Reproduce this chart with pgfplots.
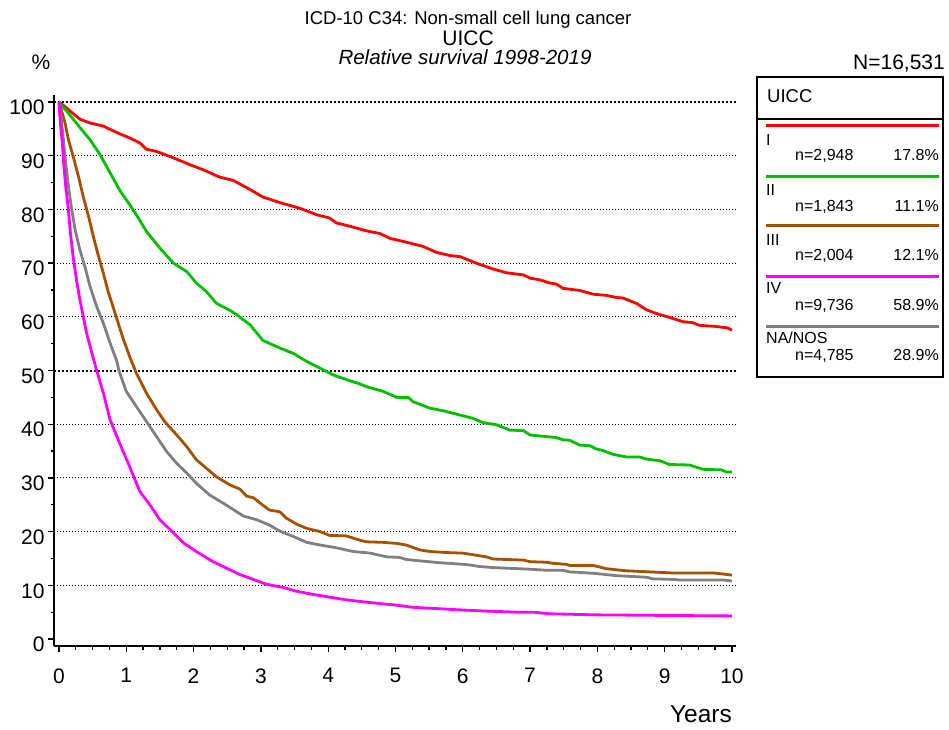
\documentclass[border=0pt]{standalone}
\usepackage{fontspec}
\setmainfont{Liberation Sans}
\usepackage{pgfplots}
\pgfplotsset{compat=1.18}
\definecolor{cI}{RGB}{255,0,0}
\definecolor{cII}{RGB}{0,190,0}
\definecolor{cIII}{RGB}{165,82,0}
\definecolor{cIV}{RGB}{255,0,255}
\definecolor{cNA}{RGB}{128,128,128}
\begin{document}
\begin{tikzpicture}
\useasboundingbox (0pt,0pt) rectangle (949pt,729pt);
% titles
\node[anchor=base,inner sep=0pt] at (468pt,704pt) {\fontsize{18.5}{22}\selectfont ICD-10 C34: Non-small cell lung cancer};
\node[anchor=base,inner sep=0pt] at (468pt,683pt) {\fontsize{21}{24}\selectfont UICC};
\node[anchor=base,inner sep=0pt] at (465pt,664pt) {\fontsize{20.5}{24}\selectfont\itshape Relative survival 1998-2019};
\node[anchor=base,inner sep=0pt] at (41pt,659pt) {\fontsize{21}{24}\selectfont \%};
\node[anchor=base east,inner sep=0pt] at (945pt,659pt) {\fontsize{21}{24}\selectfont N=16,531};
\node[anchor=base east,inner sep=0pt] at (732pt,7pt) {\fontsize{24.5}{28}\selectfont Years};
% legend
\draw[line width=1.2pt] (757pt,652pt) rectangle (943pt,352pt);
\draw[line width=1.2pt] (757pt,610pt) -- (943pt,610pt);
\node[anchor=base west,inner sep=0pt] at (767pt,626pt) {\fontsize{18.5}{22}\selectfont UICC};
\begin{scope}[every node/.style={inner sep=0pt,font=\fontsize{16}{19}\selectfont}]
\draw[cI,line width=3pt] (766pt,603pt) -- (939pt,603pt);
\node[anchor=base west] at (766pt,583pt) {I};
\node[anchor=base west] at (795pt,568pt) {n=2,948};
\node[anchor=base east] at (939pt,568pt) {17.8\%};
\draw[cII,line width=3pt] (766pt,552pt) -- (939pt,552pt);
\node[anchor=base west] at (766pt,533pt) {II};
\node[anchor=base west] at (795pt,517pt) {n=1,843};
\node[anchor=base east] at (939pt,517pt) {11.1\%};
\draw[cIII,line width=3pt] (766pt,503pt) -- (939pt,503pt);
\node[anchor=base west] at (766pt,483pt) {III};
\node[anchor=base west] at (795pt,468pt) {n=2,004};
\node[anchor=base east] at (939pt,468pt) {12.1\%};
\draw[cIV,line width=3pt] (766pt,452pt) -- (939pt,452pt);
\node[anchor=base west] at (766pt,435pt) {IV};
\node[anchor=base west] at (795pt,418pt) {n=9,736};
\node[anchor=base east] at (939pt,418pt) {58.9\%};
\draw[cNA,line width=3pt] (766pt,402pt) -- (939pt,402pt);
\node[anchor=base west] at (766pt,385pt) {NA/NOS};
\node[anchor=base west] at (795pt,369pt) {n=4,785};
\node[anchor=base east] at (939pt,369pt) {28.9\%};
\end{scope}
\begin{axis}[
  at={(54pt,83pt)}, anchor=south west,
  scale only axis, width=682pt, height=551pt,
  xmin=-0.074, xmax=10.06, ymin=-1.3, ymax=101.3,
  axis x line*=bottom, axis y line*=left,
  axis line style={line width=1.5pt,-},
  xtick={0,1,...,10}, minor x tick num=3,
  ytick={0,10,...,100}, minor y tick num=1,
  tick align=outside, major tick length=6pt, minor tick length=3.5pt,
  every tick/.style={black,line width=1.3pt},
  tick label style={font=\fontsize{21}{24}\selectfont},
  /pgf/number format/assume math mode=true,
  yticklabel style={yshift=-5.5pt},
  xticklabel style={yshift=-13pt},
  clip=false,
  every axis plot/.append style={line width=2.8pt, line join=round, no markers},
]
\pgfplotsinvokeforeach{10,20,30,40,60,70,80,90}{
  \draw[line width=1.1pt, dash pattern=on 1.1pt off 1.9pt] (axis cs:-0.074,#1) -- (axis cs:10.06,#1);
}
\pgfplotsinvokeforeach{50,100}{
  \draw[line width=2pt, dash pattern=on 2pt off 2pt] (axis cs:-0.074,#1) -- (axis cs:10.06,#1);
}
% I
\addplot[cI] coordinates {(0,100) (0.11,98.9) (0.31,96.8) (0.46,96.1) (0.66,95.5) (0.86,94.3) (1.05,93.3) (1.2,92.4) (1.30,91.2) (1.45,90.8) (1.70,89.6) (1.95,88.3) (2.14,87.4) (2.39,86.0) (2.59,85.4) (2.84,83.7) (3.03,82.3) (3.3,81.2) (3.58,80.2) (3.83,79.0) (4.02,78.4) (4.12,77.5) (4.37,76.7) (4.57,76.0) (4.77,75.5) (4.92,74.6) (5.16,73.9) (5.41,73.1) (5.61,72.0) (5.81,71.4) (5.96,71.2) (6.20,70.0) (6.45,68.9) (6.65,68.2) (6.90,67.8) (7.0,67.2) (7.14,66.9) (7.29,66.3) (7.39,66.1) (7.49,65.3) (7.74,64.9) (7.94,64.2) (8.13,64.0) (8.28,63.6) (8.38,63.5) (8.58,62.5) (8.73,61.3) (8.88,60.6) (9.07,59.9) (9.27,59.1) (9.42,58.9) (9.52,58.4) (9.77,58.2) (9.94,57.9) (10.0,57.5)};
% II
\addplot[cII] coordinates {(0,100) (0.16,97.6) (0.34,94.8) (0.46,93.0) (0.61,90.2) (0.76,86.8) (0.91,83.4) (1.05,80.9) (1.18,78.4) (1.30,75.9) (1.50,72.8) (1.70,70.0) (1.90,68.4) (2.04,66.3) (2.19,64.7) (2.34,62.5) (2.54,61.2) (2.64,60.4) (2.84,58.5) (3.03,55.6) (3.28,54.2) (3.48,53.2) (3.68,51.7) (3.93,50.1) (4.07,49.2) (4.32,48.1) (4.47,47.5) (4.57,47.0) (4.82,46.1) (5.02,45.0) (5.19,45.0) (5.26,44.2) (5.51,43.0) (5.71,42.5) (5.96,41.7) (6.15,41.1) (6.30,40.3) (6.50,39.9) (6.70,38.9) (6.90,38.8) (7.0,38.0) (7.24,37.7) (7.39,37.5) (7.49,37.1) (7.59,37.0) (7.74,36.1) (7.89,36.0) (7.98,35.4) (8.08,35.1) (8.23,34.4) (8.43,33.9) (8.63,33.9) (8.73,33.5) (8.93,33.2) (9.07,32.5) (9.37,32.4) (9.57,31.6) (9.84,31.5) (9.92,31.1) (10.0,31.1)};
% III
\addplot[cIII] coordinates {(0,100) (0.09,96.1) (0.14,93.0) (0.21,89.9) (0.29,86.1) (0.36,82.4) (0.44,78.7) (0.51,75.0) (0.58,71.6) (0.66,68.1) (0.73,64.7) (0.81,61.6) (0.88,58.8) (0.96,55.7) (1.05,52.6) (1.15,49.5) (1.30,45.8) (1.45,42.7) (1.57,40.5) (1.75,38.0) (1.90,35.8) (2.04,33.4) (2.19,31.8) (2.34,30.2) (2.54,28.7) (2.69,27.9) (2.79,26.6) (2.89,26.3) (2.99,25.3) (3.13,24.0) (3.28,23.7) (3.38,22.5) (3.53,21.4) (3.68,20.6) (3.88,20.0) (4.02,19.3) (4.27,19.2) (4.47,18.4) (4.57,18.1) (4.82,18.0) (5.02,17.8) (5.16,17.5) (5.36,16.6) (5.51,16.3) (5.76,16.1) (6.00,16.0) (6.15,15.7) (6.35,15.3) (6.45,14.9) (6.90,14.7) (7.0,14.4) (7.24,14.3) (7.34,14.1) (7.54,13.9) (7.59,13.7) (7.94,13.7) (8.13,13.1) (8.43,12.7) (8.78,12.5) (9.12,12.3) (9.72,12.3) (9.87,12.1) (10.0,11.9)};
% NA/NOS
\addplot[cNA] coordinates {(0,100) (0.04,96.1) (0.07,92.4) (0.10,88.6) (0.14,84.3) (0.19,79.9) (0.24,76.2) (0.31,72.5) (0.39,69.1) (0.46,65.7) (0.56,61.9) (0.66,58.8) (0.76,55.1) (0.86,51.7) (0.89,50.0) (1.00,46.1) (1.15,43.3) (1.30,40.5) (1.45,37.7) (1.60,34.9) (1.75,32.7) (1.90,30.9) (2.04,29.0) (2.24,26.8) (2.44,25.3) (2.64,23.7) (2.74,22.9) (2.94,22.2) (3.13,21.2) (3.28,20.1) (3.48,19.1) (3.68,18.0) (3.88,17.5) (4.12,17.0) (4.37,16.3) (4.62,16.0) (4.87,15.3) (5.06,15.2) (5.16,14.8) (5.41,14.5) (5.66,14.2) (5.91,14.0) (6.10,13.8) (6.25,13.5) (6.45,13.3) (6.82,13.1) (7.0,13.0) (7.24,12.8) (7.49,12.8) (7.59,12.5) (7.74,12.4) (7.98,12.2) (8.28,11.8) (8.58,11.6) (8.73,11.5) (8.83,11.2) (9.12,11.1) (9.22,11.0) (9.87,11.0) (10.0,10.8)};
% IV
\addplot[cIV] coordinates {(0,100) (0.02,96.1) (0.05,92.4) (0.07,88.6) (0.10,84.3) (0.14,79.9) (0.17,75.6) (0.21,71.2) (0.26,66.9) (0.31,63.2) (0.36,60.1) (0.41,57.0) (0.49,53.2) (0.56,50.0) (0.66,45.8) (0.76,40.8) (0.91,36.2) (1.05,32.1) (1.20,27.5) (1.35,25.0) (1.50,22.2) (1.65,20.4) (1.85,17.9) (2.04,16.3) (2.29,14.4) (2.49,13.2) (2.69,12.0) (2.89,11.1) (3.08,10.2) (3.33,9.6) (3.53,8.9) (3.78,8.3) (4.07,7.7) (4.27,7.3) (4.47,7.0) (4.77,6.6) (5.02,6.3) (5.26,5.9) (5.56,5.7) (6.00,5.4) (6.35,5.2) (6.82,5.0) (7.05,5.0) (7.29,4.7) (7.98,4.5) (8.93,4.4) (10.0,4.3)};
\end{axis}
\end{tikzpicture}
\end{document}
